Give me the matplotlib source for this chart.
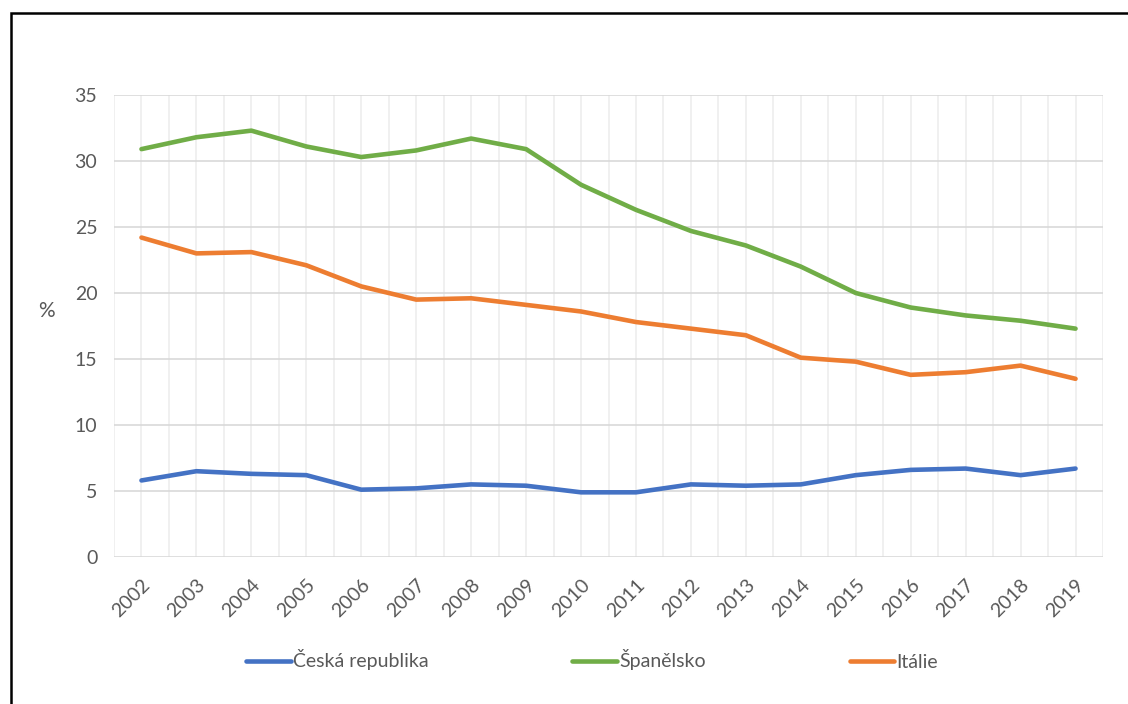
import numpy as np
import matplotlib
matplotlib.use("Agg")
import matplotlib.pyplot as plt
from matplotlib.patches import Rectangle

years = [str(y) for y in range(2002, 2020)]
cesko = [5.8, 6.5, 6.3, 6.2, 5.1, 5.2, 5.5, 5.4, 4.9, 4.9,
         5.5, 5.4, 5.5, 6.2, 6.6, 6.7, 6.2, 6.7]
spanelsko = [30.9, 31.8, 32.3, 31.1, 30.3, 30.8, 31.7, 30.9, 28.2, 26.3,
             24.7, 23.6, 22.0, 20.0, 18.9, 18.3, 17.9, 17.3]
italie = [24.2, 23.0, 23.1, 22.1, 20.5, 19.5, 19.6, 19.1, 18.6, 17.8,
          17.3, 16.8, 15.1, 14.8, 13.8, 14.0, 14.5, 13.5]

plt.rcParams['font.family'] = ['Lato', 'DejaVu Sans']
txt = '#595959'

fig = plt.figure(figsize=(11.28, 7.04), dpi=100)
ax = fig.add_axes([114/1128, 1 - 557/704, 989/1128, 462/704])

x = np.arange(len(years))
ax.plot(x, cesko, color='#4472C4', lw=3.3, solid_capstyle='round', label='Česká republika')
ax.plot(x, spanelsko, color='#70AD47', lw=3.3, solid_capstyle='round', label='Španělsko')
ax.plot(x, italie, color='#ED7D31', lw=3.3, solid_capstyle='round', label='Itálie')

ax.set_xlim(-0.5, len(years) - 0.5)
ax.set_ylim(0, 35)
ax.set_yticks(range(0, 36, 5))
ax.set_xticks(x)
ax.set_xticks(np.arange(-0.5, len(years), 1), minor=True)
ax.set_xticklabels(years, rotation=45, ha='right', va='top', rotation_mode='anchor')

ax.grid(axis='y', color='#d9d9d9', lw=1.2, zorder=0)
ax.grid(axis='x', which='both', color='#eeeeee', lw=1.2, zorder=0)
ax.set_axisbelow(True)
for s in ax.spines.values():
    s.set_visible(False)
ax.tick_params(axis='both', which='both', length=0, labelsize=14, labelcolor=txt)
ax.tick_params(axis='y', pad=12)
ax.tick_params(axis='x', pad=14)

fig.text(46/1128, 1 - 311/704, '%', fontsize=15, color=txt, ha='center', va='center')

leg = fig.legend(loc='center', bbox_to_anchor=(592/1128, 1 - 660/704), ncol=3,
                 frameon=False, fontsize=14, handlelength=2.3, handletextpad=0.1,
                 columnspacing=7.4)
for t in leg.get_texts():
    t.set_color(txt)

# outer frame, cut off at the right and bottom edges
fig.patches.append(Rectangle((11/1128, -0.2), 1.2, 1.2 - 13/704,
                             transform=fig.transFigure, fill=False,
                             ec='black', lw=1.8))

fig.savefig("out.png", dpi=100)
